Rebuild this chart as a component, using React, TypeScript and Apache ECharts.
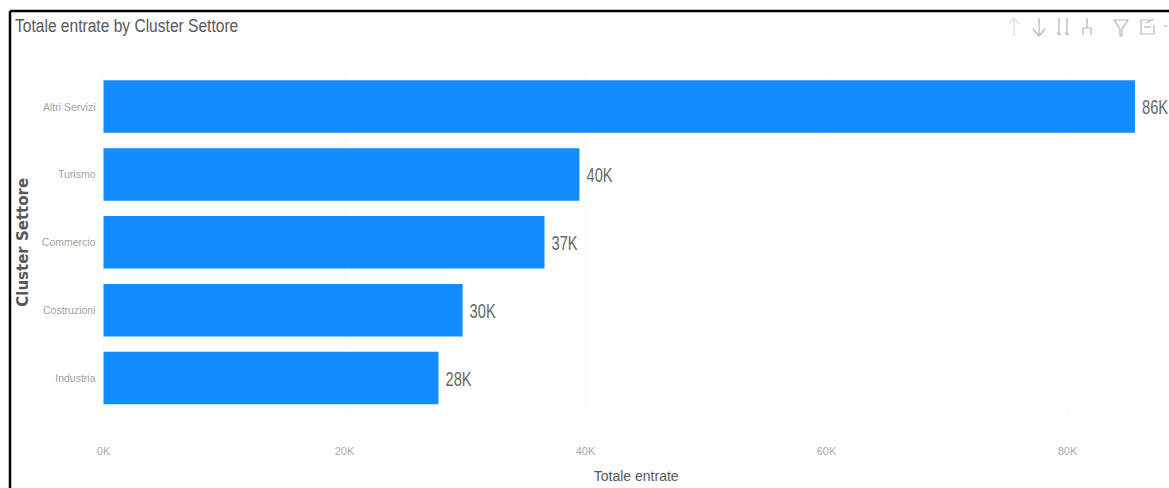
import React, { useEffect, useRef } from "react";
import * as echarts from "echarts";

const categories = ["Altri Servizi", "Turismo", "Commercio", "Costruzioni", "Industria"];
const totals = [85600, 39500, 36600, 29800, 27800];
const titleText = "Totale entrate by Cluster Settore";
const xName = "Totale entrate";
const yName = "Cluster Settore";
const sans = "'Liberation Sans', sans-serif";

const toK = (v: number) => `${Math.round(v / 1000)}K`;
const iconStyle = { stroke: "#b4b8b8", lineWidth: 1.2, fill: "none" };
const line = (x1: number, y1: number, x2: number, y2: number, style: any = iconStyle) => ({
  type: "line",
  shape: { x1, y1, x2, y2 },
  style,
  silent: true,
});
const frame = { stroke: "#000", lineWidth: 2.5 };

export default function App() {
  const ref = useRef<HTMLDivElement>(null);
  useEffect(() => {
    document.body.style.margin = "0";
    const chart = echarts.init(ref.current!, null, { renderer: "svg" });
    chart.setOption({
      animation: false,
      backgroundColor: "#fff",
      grid: { left: 103.5, top: 72.6, width: 1060.4, height: 340, containLabel: false },
      xAxis: {
        type: "value",
        min: 0,
        max: 88000,
        interval: 20000,
        name: xName,
        nameLocation: "middle",
        nameGap: 57,
        nameTextStyle: { fontFamily: sans, fontSize: 14, color: "#555a5a", padding: [0, 0, 0, 5] },
        axisLine: { show: false },
        axisTick: { show: false },
        axisLabel: {
          formatter: (v: number) => (v > 80000 ? "" : toK(v)),
          margin: 33,
          fontFamily: sans,
          fontSize: 11,
          color: "#a8acac",
        },
        splitLine: { show: true, showMaxLine: false, lineStyle: { color: "#f1f1f1", type: "dotted" } },
      },
      yAxis: {
        type: "category",
        inverse: true,
        data: categories,
        name: yName,
        nameLocation: "middle",
        nameGap: 72,
        nameRotate: 90,
        nameTextStyle: { fontFamily: "'DejaVu Sans', sans-serif", fontSize: 15, fontWeight: "bold", color: "#55595a" },
        axisLine: { show: false },
        axisTick: { show: false },
        axisLabel: { margin: 8, fontFamily: sans, fontSize: 10.5, color: "#a0a4a4" },
      },
      series: [
        {
          type: "bar",
          data: totals,
          barWidth: 52.5,
          itemStyle: { color: "#118dff" },
        },
        {
          type: "custom",
          coordinateSystem: "cartesian2d",
          encode: { x: 0, y: 1 },
          data: totals.map((v, i) => [v, i]),
          clip: false,
          silent: true,
          renderItem: (_p: any, api: any) => {
            const pt = api.coord([api.value(0), api.value(1)]);
            return {
              type: "text",
              x: pt[0] + 7,
              y: pt[1] + 1,
              scaleX: 0.7,
              style: {
                text: toK(api.value(0)),
                textAlign: "left",
                textVerticalAlign: "middle",
                fontFamily: sans,
                fontSize: 21,
                fill: "#666a6a",
              },
            };
          },
        },
      ],
      graphic: [
        line(10, 11, 1169, 11, frame),
        line(10, 11, 10, 488, frame),
        {
          type: "text",
          x: 15,
          y: 16,
          scaleX: 0.82,
          silent: true,
          style: { text: titleText, fontFamily: sans, fontSize: 19, fill: "#555a5a" },
        },
        // up arrow
        line(1014, 18, 1014, 36, { ...iconStyle, stroke: "#dcdfdf" }),
        { type: "polyline", shape: { points: [[1009, 24], [1014, 18], [1019, 24]] }, style: { ...iconStyle, stroke: "#dcdfdf" }, silent: true },
        // down arrow
        line(1039, 18, 1039, 36),
        { type: "polyline", shape: { points: [[1033, 29], [1039, 36], [1045, 29]] }, style: iconStyle, silent: true },
        // double down
        line(1059, 18, 1059, 35),
        line(1067, 18, 1067, 35),
        line(1057, 33, 1061, 35),
        line(1065, 33, 1069, 35),
        // expand hierarchy
        line(1087, 18, 1087, 28),
        { type: "polyline", shape: { points: [[1083, 35], [1083, 28], [1091, 28], [1091, 35]] }, style: iconStyle, silent: true },
        // filter
        { type: "polygon", shape: { points: [[1114, 20], [1128, 20], [1122, 29], [1122, 36], [1120, 36], [1120, 29]] }, style: iconStyle, silent: true },
        // focus
        { type: "polyline", shape: { points: [[1151, 20], [1141, 20], [1141, 34], [1154, 34], [1154, 25]] }, style: iconStyle, silent: true },
        line(1144, 27, 1151, 27),
        line(1146, 23, 1154, 19),
        line(1164, 26, 1167, 26),
      ],
    });
    return () => chart.dispose();
  }, []);
  return <div ref={ref} style={{ width: 1169, height: 488 }} />;
}
